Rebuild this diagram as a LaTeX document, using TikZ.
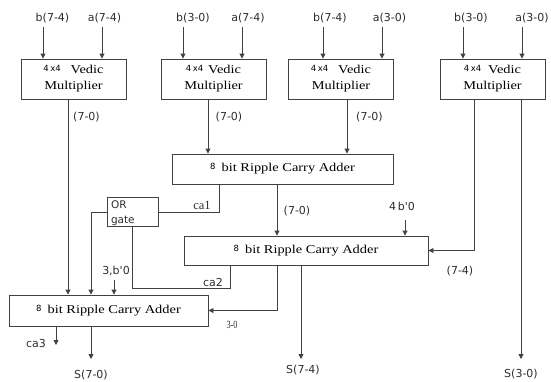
\documentclass[tikz,border=0pt]{standalone}
\usepackage{fontspec}
\setmainfont{Liberation Serif}
\newfontfamily\boxfont{Liberation Serif}[FakeStretch=1.2]
\newfontfamily\lblfont{DejaVu Sans}
\usetikzlibrary{arrows.meta}
\definecolor{wireGray}{RGB}{65,65,65}
\definecolor{textGray}{RGB}{45,45,45}
\newcommand{\fourx}{\raisebox{2pt}{\lblfont\fontsize{8.5}{9}\selectfont 4\,x4}}
\newcommand{\eightbit}{\raisebox{2pt}{\lblfont\fontsize{8.5}{9}\selectfont 8}}

\begin{document}
\begin{tikzpicture}[x=1pt,y=-1pt,
  mult/.style={rectangle,draw=wireGray,line width=0.9pt,minimum width=105pt,
               minimum height=40pt,align=center,inner sep=0pt,
               font=\boxfont\fontsize{12}{16}\selectfont},
  rca/.style={rectangle,draw=wireGray,line width=0.9pt,minimum height=30pt,
              inner sep=0pt,font=\boxfont\fontsize{12}{14}\selectfont},
  orbox/.style={rectangle,draw=wireGray,line width=0.9pt,align=left,text width=43pt,
                inner xsep=4pt,inner ysep=3pt,text depth=15.4pt,
                font=\lblfont\fontsize{10.5}{15}\selectfont,text=textGray},
  lbl/.style={font=\lblfont\fontsize{11}{13}\selectfont,text=textGray,inner sep=1pt},
  arr/.style={-{Triangle[length=5pt,width=5pt]},draw=wireGray,line width=0.9pt},
  wire/.style={draw=wireGray,line width=0.9pt}
]
  \useasboundingbox (0,0) rectangle (551,381);

  % multipliers
  \node[mult](m1) at (73.5,79)  {\fourx\hspace{10pt}Vedic\\Multiplier};
  \node[mult](m2) at (213.5,79) {\fourx\hspace{5pt}Vedic\\Multiplier};
  \node[mult](m3) at (341,79)   {\fourx\hspace{10pt}Vedic\\Multiplier};
  \node[mult](m4) at (492.5,79) {\fourx\hspace{7pt}Vedic\\Multiplier};

  % adders and OR gate
  \node[rca,minimum width=221pt](rcaA) at (282.5,169)
      {\eightbit\enspace bit Ripple Carry Adder};
  \node[rca,minimum width=244pt,minimum height=29pt](rcaB) at (306,250.5)
      {\eightbit\enspace bit Ripple Carry Adder};
  \node[rca,minimum width=199pt,minimum height=31pt](rcaC) at (108.5,310.5)
      {\eightbit\enspace bit Ripple Carry Adder};
  \node[orbox](orG) at (132.5,212) {OR\\gate};

  % inputs
  \node[lbl](lb1) at (52.5,18)  {b(7-4)};
  \node[lbl](la1) at (104.5,18) {a(7-4)};
  \node[lbl](lb2) at (193,18)   {b(3-0)};
  \node[lbl](la2) at (248,18)   {a(7-4)};
  \node[lbl](lb3) at (330,18)   {b(7-4)};
  \node[lbl](la3) at (389.5,18) {a(3-0)};
  \node[lbl](lb4) at (471,18)   {b(3-0)};
  \node[lbl](la4) at (532,18)   {a(3-0)};
  \coordinate (ib1) at (43,27);  \coordinate (ia1) at (102,27);
  \coordinate (ib2) at (183,27); \coordinate (ia2) at (242,27);
  \coordinate (ib3) at (323,27); \coordinate (ia3) at (382,27);
  \coordinate (ib4) at (463,27); \coordinate (ia4) at (522,27);
  \draw[arr](ib1)--(ib1 |- m1.north);
  \draw[arr](ia1)--(ia1 |- m1.north);
  \draw[arr](ib2)--(ib2 |- m2.north);
  \draw[arr](ia2)--(ia2 |- m2.north);
  \draw[arr](ib3)--(ib3 |- m3.north);
  \draw[arr](ia3)--(ia3 |- m3.north);
  \draw[arr](ib4)--(ib4 |- m4.north);
  \draw[arr](ia4)--(ia4 |- m4.north);

  % multiplier outputs
  \draw[arr]([xshift=-5.5pt]m1.south)--([xshift=-5.5pt]m1.south |- rcaC.north);
  \node[lbl] at (86.5,117) {(7-0)};
  \draw[arr]([xshift=-5.5pt]m2.south)--([xshift=-5.5pt]m2.south |- rcaA.north);
  \node[lbl] at (229,117) {(7-0)};
  \draw[arr]([xshift=6pt]m3.south)--([xshift=6pt]m3.south |- rcaA.north);
  \node[lbl] at (369.5,117) {(7-0)};
  \draw[arr]([xshift=-18.5pt]m4.south)|-(rcaB.east);
  \node[lbl] at (460,271) {(7-4)};
  \coordinate (o30) at (521,359);
  \draw[arr](m4.south -| o30)--(o30);
  \node[lbl] at (521,374) {S(3-0)};

  % carries
  \draw[wire]([xshift=-63.5pt]rcaA.south)|-(orG.east);
  \node[lbl,font=\fontsize{12.5}{14}\selectfont] at (202,205) {ca1};
  \draw[wire]([xshift=-76pt]rcaB.south)--++(0,23)-|(orG.south);
  \node[lbl] at (213,282) {ca2};
  \draw[arr](orG.west)-|([xshift=-17.5pt]rcaC.north);

  % sums between adders
  \draw[arr]([xshift=-5.5pt]rcaA.south)--([xshift=-5.5pt]rcaA.south |- rcaB.north);
  \node[lbl] at (297,211) {(7-0)};
  \coordinate (i4b) at (405,220);
  \draw[arr](i4b)--(i4b |- rcaB.north);
  \node[lbl] at (402,206) {4\,b'0};
  \coordinate (i3b) at (114,280);
  \draw[arr](i3b)--(i3b |- rcaC.north);
  \node[lbl] at (116,271) {3,b'0};
  \draw[arr]([xshift=-29pt]rcaB.south)|-(rcaC.east);
  \node[inner sep=0pt,font=\fontsize{11}{12}\selectfont,text=textGray] at (232,325) {\scalebox{0.75}[1]{3-0}};

  % final outputs
  \coordinate (o74) at (301,359);
  \draw[arr](rcaB.south -| o74)--(o74);
  \node[lbl] at (303,370) {S(7-4)};
  \coordinate (oca3) at (56,345);
  \draw[arr](rcaC.south -| oca3)--(oca3);
  \node[lbl] at (36,343) {ca3};
  \coordinate (o70) at (91,359);
  \draw[arr](rcaC.south -| o70)--(o70);
  \node[lbl] at (91,375) {S(7-0)};
\end{tikzpicture}
\end{document}
